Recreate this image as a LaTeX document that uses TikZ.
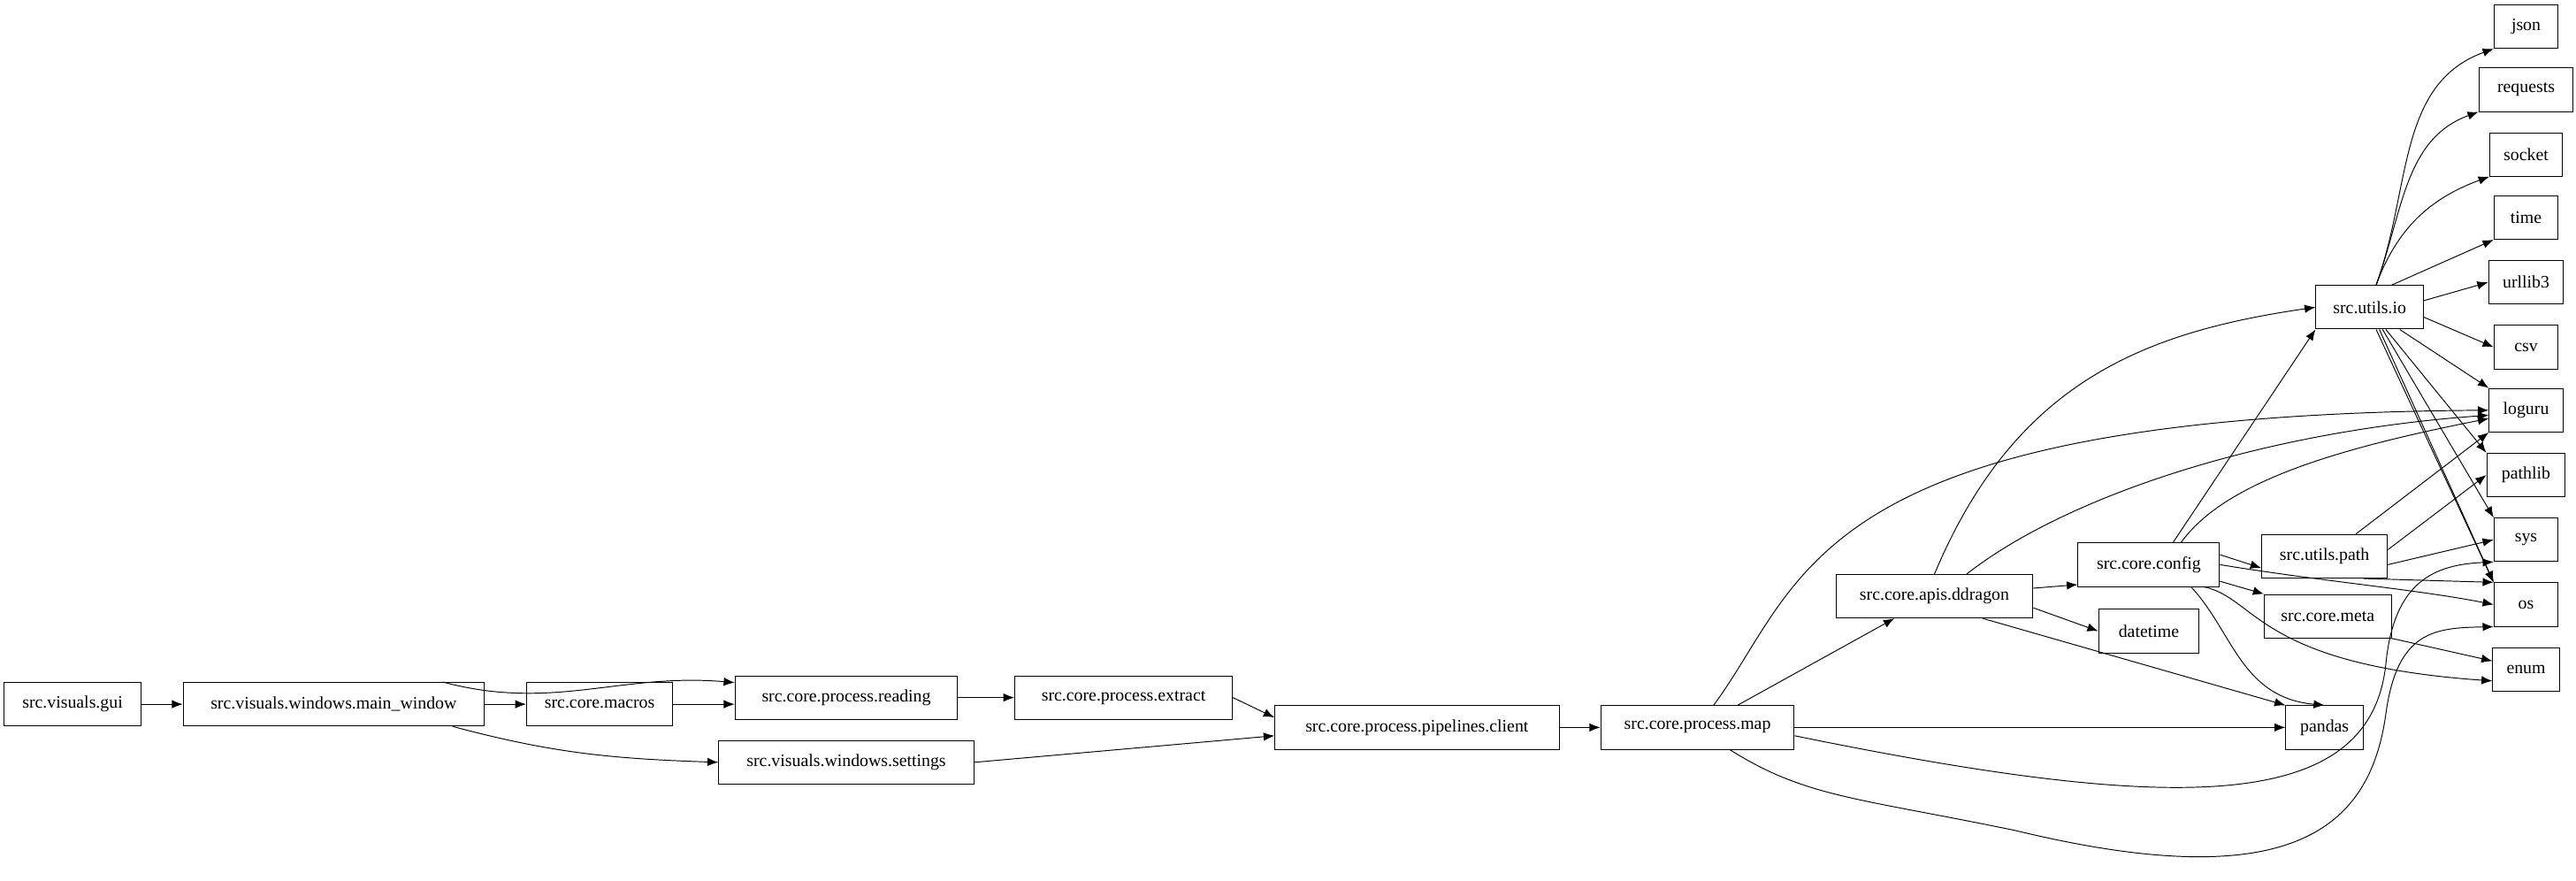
\documentclass[tikz,border=0pt]{standalone}
\usepackage{fontspec}
\setmainfont{Liberation Serif}
\usetikzlibrary{arrows.meta}
\begin{document}
\begin{tikzpicture}[x=1.333pt,y=-1.373pt,
 box/.style={draw,line width=0.7pt,minimum height=36pt,inner xsep=3pt,font=\fontsize{14.5}{16}\selectfont},
 e/.style={-{Latex[length=9pt,width=7pt]},line width=0.7pt}]
\useasboundingbox (0,0) rectangle (1598,530);
\node[box,minimum width=113pt] (gui) at (45,424) {src.visuals.gui};
\node[box,minimum width=249pt] (mw) at (207,424) {src.visuals.windows.main\_window};
\node[box,minimum width=121pt] (mac) at (372,424) {src.core.macros};
\node[box,minimum width=184pt] (rd) at (525,420) {src.core.process.reading};
\node[box,minimum width=211pt] (set) at (525,459) {src.visuals.windows.settings};
\node[box,minimum width=180pt] (ex) at (697,420) {src.core.process.extract};
\node[box,minimum width=235pt] (cl) at (879,438) {src.core.process.pipelines.client};
\node[box,minimum width=160pt] (map) at (1053,438) {src.core.process.map};
\node[box,minimum width=163pt] (dd) at (1200,359) {src.core.apis.ddragon};
\node[box,minimum width=83pt] (dt) at (1333,380) {datetime};
\node[box,minimum width=117pt] (cfg) at (1333,340) {src.core.config};
\node[box,minimum width=64pt] (pd) at (1442,438) {pandas};
\node[box,minimum width=89pt] (io) at (1470,185) {src.utils.io};
\node[box,minimum width=104pt] (pth) at (1442,335) {src.utils.path};
\node[box,minimum width=105pt] (meta) at (1444,371) {src.core.meta};
\node[box,minimum width=53pt] (json) at (1567,16) {json};
\node[box,minimum width=78pt] (req) at (1567,54) {requests};
\node[box,minimum width=60pt] (sock) at (1567,93) {socket};
\node[box,minimum width=53pt] (time) at (1567,131) {time};
\node[box,minimum width=62pt] (url) at (1567,170) {urllib3};
\node[box,minimum width=53pt] (csv) at (1567,209) {csv};
\node[box,minimum width=61pt] (log) at (1567,247) {loguru};
\node[box,minimum width=65pt] (pl) at (1567,286) {pathlib};
\node[box,minimum width=53pt] (sys) at (1567,325) {sys};
\node[box,minimum width=53pt] (os) at (1567,364) {os};
\node[box,minimum width=55pt] (enum) at (1567,403) {enum};
\draw[e] (gui) -- (mw);
\draw[e] (mw) -- (mac);
\draw[e] (mw.north east)++(-26,0) coordinate (a1) (a1) to[out=-15,in=175] (rd.west|-0,411);
\draw[e] (mac.east) -- (rd.west|-0,424);
\draw[e] (mw.south east)++(-20,0) coordinate (a2) (a2) to[out=-15,in=178] (set.west);
\draw[e] (rd) -- (ex);
\draw[e] (ex.east) -- (cl.west|-0,432);
\draw[e] (set.east) -- (cl.west|-0,443);
\draw[e] (cl) -- (map);
\draw[e] (map) -- (dd);
\draw[e] (map.east) -- (pd.west);
\draw[e] (map.north)++(10,0) coordinate (a3) (a3) .. controls (1120,350) and (1120,250) .. (log.west);
\draw[e] (map.east|-0,443) .. controls (1350,490) and (1470,490) .. (1480,400) .. controls (1485,350) and (1510,340) .. (sys.south west);
\draw[e] (map.south)++(20,0) coordinate (a4) (a4) .. controls (1120,480) and (1150,480) .. (1250,500) .. controls (1420,540) and (1470,500) .. (1480,430) .. controls (1487,380) and (1510,378) .. (os.south west);
\draw[e] (dd) -- (cfg.west|-0,352);
\draw[e] (dd.east|-0,366) -- (dt.west);
\draw[e] (dd.south)++(30,0) coordinate (a5) (a5) -- (pd.north west);
\draw[e] (dd.north) .. controls (1250,230) and (1330,200) .. (io.west);
\draw[e] (dd.north)++(20,0) coordinate (a6) (a6) .. controls (1280,300) and (1400,260) .. (log.west|-0,250);
\draw[e] (cfg.north)++(15,0) coordinate (a7) (a7) -- (io.south west);
\draw[e] (cfg.north)++(20,0) coordinate (a8) (a8) .. controls (1380,290) and (1450,270) .. (log.west|-0,252);
\draw[e] (cfg.east|-0,334) -- (pth.west|-0,342);
\draw[e] (cfg.east|-0,350) -- (meta.north west);
\draw[e] (cfg.east) .. controls (1440,350) and (1500,355) .. (os.west);
\draw[e] (cfg.south east)++(-10,0) coordinate (a9) (a9) .. controls (1400,360) and (1400,400) .. (enum.west|-0,410);
\draw[e] (cfg.south east)++(-18,0) coordinate (a10) (a10) .. controls (1385,380) and (1390,420) .. (pd.north);
\foreach \t in {json,req,sock} \draw[e] (io.north)++(4,0) coordinate (b) (b) to[out=70,in=200] (\t.south west);
\draw[e] (io.north east)++(-20,0) coordinate (b2) (b2) -- (time.south west);
\draw[e] (io.east|-0,181) -- (url.west);
\draw[e] (io.east|-0,191) -- (csv.west);
\draw[e] (io.south east)++(-15,0) coordinate (b3) (b3) -- (log.north west);
\draw[e] (io.south)++(10,0) coordinate (b4) (b4) -- (pl.north west);
\draw[e] (io.south)++(8,0) coordinate (b5) (b5) -- (sys.north west);
\draw[e] (io.south)++(4,0) coordinate (b6) (b6) -- (os.north west);
\draw[e] (io.south)++(6,0) coordinate (b7) (b7) -- (os.north west);
\draw[e] (pth.north east)++(-20,0) coordinate (c1) (c1) -- (log.south west);
\draw[e] (pth.east|-0,331) -- (pl.west);
\draw[e] (pth.east|-0,340) -- (sys.west);
\draw[e] (pth.south east)++(-15,0) coordinate (c2) (c2) -- (os.north west);
\draw[e] (meta.south east) -- (enum.west|-0,398);
\end{tikzpicture}
\end{document}
